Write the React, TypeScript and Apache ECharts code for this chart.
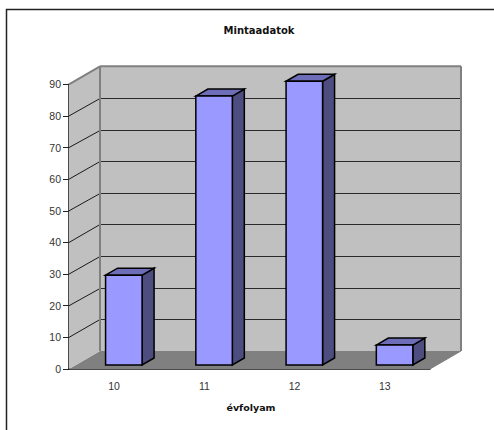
import React, { useEffect, useRef } from "react";
import * as echarts from "echarts";

const titleText = "Mintaadatok";
const xAxisName = "évfolyam";
const categories = ["10", "11", "12", "13"];
const values = [28.4, 85, 89.7, 6.3];
const yTickValues = [10, 20, 30, 40, 50, 60, 70, 80, 90];

const DEPTH_X = 31;
const DEPTH_Y = -18;

const renderWalls = (_p: any, api: any) => {
  const [x0, y0] = api.coord([0, 0]);
  const [x1] = api.coord([3, 0]);
  const band = api.size([1, 0])[0];
  const left = x0 - band / 2;
  const right = x1 + band / 2;
  const [, top] = api.coord([0, 90]);
  const pts = (p: number[][]) => ({ points: p });
  const lineStyle = { stroke: "#808080", lineWidth: 2, fill: "none" };
  const children: any[] = [
    {
      type: "polygon",
      shape: pts([[left, y0], [left + DEPTH_X, y0 + DEPTH_Y], [right + DEPTH_X, y0 + DEPTH_Y], [right, y0]]),
      style: { fill: "#808080" },
    },
    {
      type: "polygon",
      shape: pts([[left, y0], [left, top], [left + DEPTH_X, top + DEPTH_Y], [left + DEPTH_X, y0 + DEPTH_Y]]),
      style: { fill: "#c0c0c0" },
    },
    {
      type: "rect",
      shape: { x: left + DEPTH_X, y: top + DEPTH_Y, width: right - left, height: y0 - top },
      style: { fill: "#c0c0c0" },
    },
  ];
  yTickValues.forEach((v) => {
    const [, y] = api.coord([0, v]);
    if (v === 90) return;
    const yy = Math.round(y + DEPTH_Y) + 0.5;
    children.push(
      { type: "line", shape: { x1: left + DEPTH_X, y1: yy, x2: right + DEPTH_X, y2: yy }, style: { stroke: "#2a2a2a", lineWidth: 1 } },
      { type: "line", shape: { x1: left, y1: y, x2: left + DEPTH_X, y2: yy }, style: { stroke: "#1a1a1a", lineWidth: 1 } },
    );
  });
  children.push(
    { type: "line", shape: { x1: left, y1: top, x2: left + DEPTH_X, y2: top + DEPTH_Y }, style: lineStyle },
    { type: "line", shape: { x1: left + DEPTH_X, y1: top + DEPTH_Y, x2: right + DEPTH_X, y2: top + DEPTH_Y }, style: lineStyle },
    { type: "line", shape: { x1: right + DEPTH_X, y1: top + DEPTH_Y, x2: right + DEPTH_X, y2: y0 + DEPTH_Y }, style: lineStyle },
    { type: "line", shape: { x1: left + DEPTH_X, y1: top + DEPTH_Y, x2: left + DEPTH_X, y2: y0 + DEPTH_Y }, style: lineStyle },
    { type: "line", shape: { x1: right, y1: y0, x2: right + DEPTH_X, y2: y0 + DEPTH_Y }, style: { stroke: "#808080", lineWidth: 1 } },
  );
  return { type: "group", children };
};

const renderBar = (_p: any, api: any) => {
  const idx = api.value(0);
  const val = api.value(1);
  const [cx, baseY] = api.coord([idx, 0]);
  const [, valY] = api.coord([idx, val]);
  const w = 36.5;
  const shiftX = 9.7;
  const shiftY = -4;
  const dx = 12;
  const dy = -7;
  const l = cx + shiftX - w / 2;
  const r = l + w;
  const b = baseY + shiftY;
  const t = valY + shiftY;
  const edge = { stroke: "#000", lineWidth: 1.5, lineJoin: "miter" };
  return {
    type: "group",
    children: [
      { type: "polygon", shape: { points: [[r, b], [r, t], [r + dx, t + dy], [r + dx, b + dy]] }, style: { fill: "#4d4d80", ...edge } },
      { type: "polygon", shape: { points: [[l, t], [l + dx, t + dy], [r + dx, t + dy], [r, t]] }, style: { fill: "#6d6db8", ...edge } },
      { type: "rect", shape: { x: l, y: t, width: w, height: b - t }, style: { fill: "#9999ff", ...edge } },
    ],
  };
};

export default function App() {
  const ref = useRef<HTMLDivElement>(null);
  useEffect(() => {
    const chart = echarts.init(ref.current!, undefined, { renderer: "svg" });
    chart.setOption({
      animation: false,
      backgroundColor: "#fff",
      textStyle: { fontFamily: "Liberation Sans" },
      title: {
        text: titleText,
        left: 254,
        top: 20,
        textAlign: "center",
        textStyle: { fontSize: 10, fontWeight: "bold", color: "#111", fontFamily: "DejaVu Sans" },
      },
      grid: { left: 69, right: 64, top: 84.3, bottom: 61, containLabel: false },
      xAxis: {
        type: "category",
        data: categories,
        name: xAxisName,
        nameLocation: "middle",
        nameGap: 33,
        nameTextStyle: { fontSize: 9.5, fontWeight: "bold", color: "#111", fontFamily: "DejaVu Sans", padding: [0, 0, 0, 3] },
        axisLine: { lineStyle: { color: "#111", width: 1.5 } },
        axisTick: { alignWithLabel: false, length: 4, lineStyle: { color: "#222" } },
        axisLabel: { fontSize: 10.5, color: "#333", margin: 11 },
      },
      yAxis: {
        type: "value",
        min: 0,
        max: 90,
        interval: 10,
        axisLine: { show: true, lineStyle: { color: "#111", width: 1.5 } },
        axisTick: { show: true, length: 6, lineStyle: { color: "#222" } },
        axisLabel: { fontSize: 10.5, color: "#333", margin: 8 },
        splitLine: { show: false },
      },
      series: [
        { type: "custom", z: 1, data: [[0, 0]], renderItem: renderWalls, silent: true },
        { type: "custom", z: 3, data: values.map((v, i) => [i, v]), renderItem: renderBar, encode: { x: 0, y: 1 } },
      ],
      graphic: [
        {
          type: "polyline",
          z: -1,
          shape: { points: [[6.5, 430], [6.5, 9.5], [494, 9.5]] },
          style: { fill: "none", stroke: "#222", lineWidth: 1.5 },
        },
      ],
    });
    return () => chart.dispose();
  }, []);
  return <div ref={ref} style={{ position: "absolute", left: 0, top: 0, width: 494, height: 430 }} />;
}
